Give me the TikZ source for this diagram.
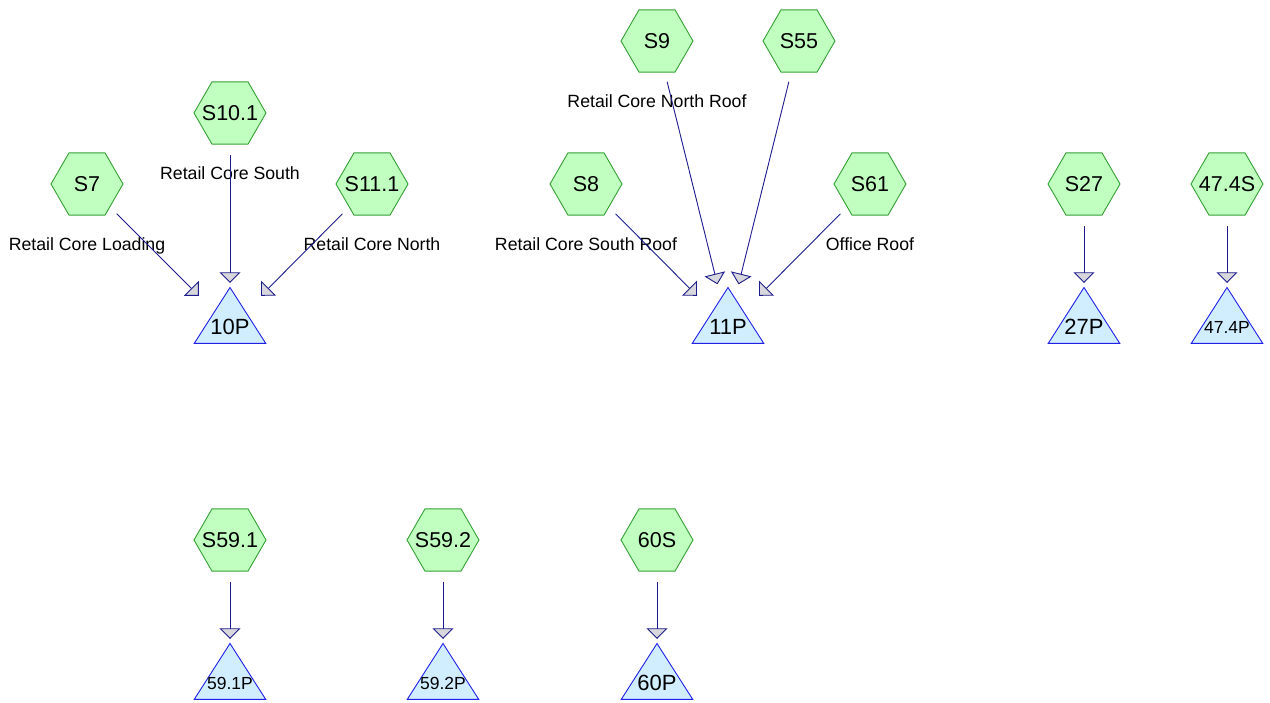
\documentclass[tikz,border=0pt]{standalone}
\usepackage{fontspec}
\setmainfont{Liberation Sans}
\usetikzlibrary{shapes.geometric,arrows.meta}

\definecolor{hexfill}{HTML}{C0FFC0}
\definecolor{hexline}{HTML}{34A034}
\definecolor{trifill}{HTML}{D0EEFF}
\definecolor{triline}{HTML}{2020E8}
\definecolor{edgeline}{HTML}{1C1C8C}
\definecolor{tipfill}{HTML}{D8D8DC}

% text of zero width, so every hexagon keeps the same size
\newcommand\hx[1]{\makebox[0pt][c]{#1}}

\tikzset{
  hexnode/.style={regular polygon, regular polygon sides=6, minimum size=72pt,
    inner sep=0pt, draw=hexline, fill=hexfill, line width=0.9pt,
    font=\fontsize{21.5}{24}\selectfont},
  trishape/.style={draw=triline, fill=trifill, line width=0.9pt, line join=miter},
  tritext/.style={inner sep=0pt, font=\fontsize{22}{24}\selectfont},
  trismall/.style={inner sep=0pt, font=\fontsize{17.5}{20}\selectfont},
  lbl/.style={inner sep=0pt, anchor=base, font=\fontsize{17.7}{20}\selectfont},
  flow/.style={draw=edgeline, line width=0.9pt, shorten <=42pt, shorten >=44pt,
    -{Triangle[length=10.7pt,width=21pt,fill=tipfill]}},
}

\begin{document}
\begin{tikzpicture}[x=1pt,y=-1pt]
\useasboundingbox (0,0) rectangle (1270,702);

% triangle outlines (centred on their label points)
\foreach \x/\y in {230/327, 728/327, 1084/327, 1227/327, 230/683, 443/683, 657/683}
  \filldraw[trishape] (\x,\y-39.5) -- (\x+35.7,\y+16.3) -- (\x-35.7,\y+16.3) -- cycle;

% receiving points
\node[tritext]  (p10)  at (230,327)  {10P};
\node[tritext]  (p11)  at (728,327)  {11P};
\node[tritext]  (p27)  at (1084,327) {27P};
\node[trismall] (p474) at (1227,327) {47.4P};
\node[trismall] (p591) at (230,683)  {59.1P};
\node[trismall] (p592) at (443,683)  {59.2P};
\node[tritext]  (p60)  at (657,683)  {60P};

% sources
\node[hexnode] (s7)   at (87,184)   {\hx{S7}};
\node[hexnode] (s101) at (230,113)  {\hx{S10.1}};
\node[hexnode] (s111) at (372,184)  {\hx{S11.1}};
\node[hexnode] (s8)   at (586,184)  {\hx{S8}};
\node[hexnode] (s9)   at (657,41)   {\hx{S9}};
\node[hexnode] (s55)  at (799,41)   {\hx{S55}};
\node[hexnode] (s61)  at (870,184)  {\hx{S61}};
\node[hexnode] (s27)  at (1084,184) {\hx{S27}};
\node[hexnode] (s474) at (1227,184) {\hx{47.4S}};
\node[hexnode] (s591) at (230,540)  {\hx{S59.1}};
\node[hexnode] (s592) at (443,540)  {\hx{S59.2}};
\node[hexnode] (s60)  at (657,540)  {\hx{60S}};

% source descriptions
\node[lbl] (l7)   at (87,250)    {Retail Core Loading};
\node[lbl] (l101) at (230,179.3) {Retail Core South};
\node[lbl] (l111) at (372,250)   {Retail Core North};
\node[lbl] (l8)   at (586,250)   {Retail Core South Roof};
\node[lbl] (l9)   at (657,107.3) {Retail Core North Roof};
\node[lbl] (l61)  at (870,250)   {Office Roof};

% flows
\draw[flow] (s7.center)   -- (p10.center);
\draw[flow] (s101.center) -- (p10.center);
\draw[flow] (s111.center) -- (p10.center);
\draw[flow] (s8.center)   -- (p11.center);
\draw[flow] (s9.center)   -- (p11.center);
\draw[flow] (s55.center)  -- (p11.center);
\draw[flow] (s61.center)  -- (p11.center);
\draw[flow] (s27.center)  -- (p27.center);
\draw[flow] (s474.center) -- (p474.center);
\draw[flow] (s591.center) -- (p591.center);
\draw[flow] (s592.center) -- (p592.center);
\draw[flow] (s60.center)  -- (p60.center);
\end{tikzpicture}
\end{document}
